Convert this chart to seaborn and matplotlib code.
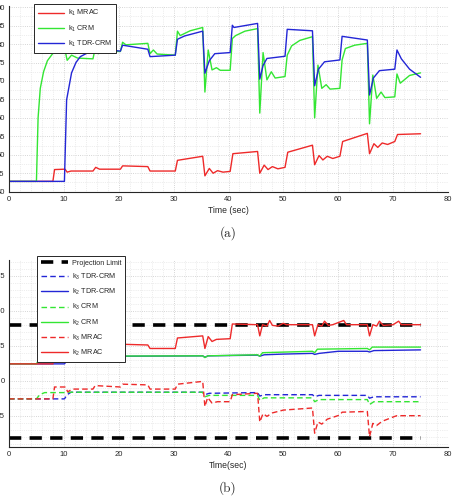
import numpy as np
import pandas as pd
import seaborn as sns
import matplotlib.pyplot as plt
from matplotlib.ticker import MultipleLocator, AutoMinorLocator

# ---- panel (a): k1 gains ----
t_k1_mrac = [0, 8.0, 8.3, 10.2, 10.6, 11.3, 15.3, 15.8, 16.5, 20.3, 20.7, 25.3, 25.7, 30.3, 30.7, 35.3,
             35.7, 36.5, 37.2, 38.0, 39.0, 40.3, 40.8, 45.3, 45.7, 46.5, 47.2, 48.0, 49.0, 50.3, 50.8,
             55.3, 55.7, 56.5, 57.2, 58.0, 59.0, 60.3, 60.8, 65.3, 65.7, 66.5, 67.2, 68.0, 69.0, 70.3,
             70.8, 75.0]
k1_mrac = [42.8, 42.8, 46.0, 46.1, 45.3, 45.6, 45.6, 46.6, 46.1, 46.1, 47.0, 46.8, 45.6, 45.6, 48.5, 49.6,
           44.3, 46.3, 45.0, 45.7, 45.3, 45.5, 50.3, 50.9, 45.0, 47.2, 46.0, 46.8, 46.2, 46.6, 50.7,
           52.6, 47.3, 49.8, 48.6, 49.6, 49.0, 49.6, 53.6, 55.8, 50.3, 53.0, 52.0, 53.2, 52.8, 53.6,
           55.5, 55.7]

t_k1_crm = [0, 5.0, 5.3, 5.7, 6.3, 7.0, 8.0, 9.0, 10.2, 10.6, 11.4, 12.5, 15.3, 15.7, 16.3, 17.0, 20.3,
            20.7, 21.3, 25.3, 25.7, 26.3, 27.0, 30.3, 30.7, 31.2, 33.0, 35.3, 35.7, 36.3, 37.0, 37.8,
            38.5, 40.3, 40.7, 41.3, 43.0, 45.3, 45.7, 46.3, 47.0, 47.8, 48.5, 50.3, 50.7, 51.5, 53.0,
            55.3, 55.7, 56.3, 57.0, 57.8, 58.5, 60.3, 60.7, 61.3, 63.0, 65.3, 65.7, 66.3, 67.0, 67.8,
            68.5, 70.3, 70.7, 71.3, 73.0, 75.0]
k1_crm = [42.8, 42.8, 60.0, 68.0, 72.5, 75.5, 77.5, 78.2, 78.4, 75.6, 77.0, 76.2, 76.0, 78.8, 77.4, 78.0, 78.0,
          80.5, 79.8, 80.2, 77.4, 78.4, 77.3, 77.0, 83.5, 82.3, 83.6, 84.5, 67.0, 78.4, 73.0, 73.6,
          72.9, 72.9, 81.5, 82.3, 83.5, 84.2, 61.3, 77.7, 70.3, 72.5, 70.8, 71.2, 77.0, 79.5, 81.0,
          82.0, 60.0, 74.3, 68.0, 69.0, 67.8, 68.0, 75.7, 78.8, 79.7, 80.2, 58.4, 71.6, 65.3, 67.0,
          65.5, 65.7, 71.9, 69.4, 71.5, 72.2]

t_k1_tdr = [0, 10.1, 10.5, 11.4, 12.2, 13.0, 14.8, 16.0, 18.4, 20.3, 20.7, 25.3, 25.7, 30.3, 30.7, 32.0,
            35.3, 35.7, 36.5, 37.5, 40.3, 40.7, 41.0, 45.3, 45.7, 46.3, 47.0, 50.3, 50.7, 55.3, 55.7,
            56.4, 57.5, 60.3, 60.7, 65.3, 65.7, 66.4, 67.5, 70.3, 70.7, 71.5, 73.0, 75.0]
k1_tdr = [42.8, 42.8, 64.9, 72.2, 75.0, 76.6, 78.0, 78.6, 78.4, 78.1, 79.7, 78.6, 76.6, 77.0, 81.3, 82.2,
          83.5, 72.1, 75.5, 77.4, 77.7, 85.1, 84.5, 85.6, 70.5, 74.2, 76.1, 76.7, 84.0, 83.6, 68.7,
          73.2, 75.2, 75.7, 82.1, 81.1, 66.2, 70.8, 72.8, 73.2, 78.4, 76.0, 73.2, 71.0]

# ---- panel (b): k2 / k3 gains ----
proj_t = [0, 75]
proj_hi = [0.8, 0.8]
proj_lo = [-0.82, -0.82]

t_k2_mrac = [0, 8.0, 8.3, 10.3, 10.7, 11.5, 15.3, 15.7, 20.3, 20.7, 25.3, 25.7, 30.3, 30.7, 35.3, 35.7,
             36.3, 37.0, 37.8, 40.3, 40.7, 45.3, 45.7, 46.2, 47.0, 47.5, 48.0, 49.0, 50.0, 50.5, 55.3,
             55.7, 56.3, 57.0, 57.5, 58.2, 59.0, 61.0, 61.5, 65.3, 65.7, 66.3, 67.0, 67.5, 68.2, 70.0,
             71.0, 71.5, 75.0]
k2_mrac = [0.24, 0.24, 0.45, 0.45, 0.40, 0.44, 0.44, 0.50, 0.49, 0.52, 0.51, 0.46, 0.46, 0.61, 0.64, 0.46,
           0.63, 0.56, 0.59, 0.60, 0.81, 0.80, 0.64, 0.80, 0.78, 0.86, 0.79, 0.78, 0.82, 0.80, 0.80,
           0.64, 0.80, 0.78, 0.85, 0.79, 0.80, 0.86, 0.80, 0.80, 0.64, 0.80, 0.78, 0.85, 0.79, 0.80,
           0.85, 0.80, 0.80]

t_k3_mrac = [0, 8.0, 8.3, 10.3, 10.7, 11.5, 15.3, 15.7, 20.3, 20.7, 25.3, 25.7, 30.3, 30.7, 35.3, 35.7,
             36.2, 37.0, 38.0, 40.3, 40.7, 45.3, 45.7, 46.3, 47.0, 48.0, 50.0, 55.3, 55.7, 56.3, 57.0,
             58.0, 60.3, 60.7, 65.3, 65.7, 66.3, 67.0, 68.0, 70.3, 70.7, 75.0]
k3_mrac = [-0.26, -0.26, -0.09, -0.09, -0.16, -0.12, -0.12, -0.07, -0.09, -0.05, -0.06, -0.12, -0.12, -0.05,
           -0.01, -0.37, -0.24, -0.32, -0.30, -0.30, -0.20, -0.18, -0.59, -0.47, -0.51, -0.46, -0.42,
           -0.39, -0.75, -0.59, -0.62, -0.55, -0.49, -0.45, -0.44, -0.80, -0.61, -0.64, -0.58, -0.51,
           -0.50, -0.50]

t_k2_crm = [0, 5.0, 5.5, 6.2, 10.3, 10.7, 35.3, 35.7, 36.2, 45.3, 45.7, 46.2, 55.3, 55.7, 56.2, 65.3, 65.7,
            66.2, 75.0]
k2_crm = [0.24, 0.24, 0.31, 0.34, 0.345, 0.35, 0.355, 0.33, 0.355, 0.37, 0.35, 0.40, 0.42, 0.40, 0.45,
          0.46, 0.44, 0.48, 0.48]

t_k3_crm = [0, 5.0, 5.6, 6.5, 10.3, 10.7, 35.3, 35.7, 36.5, 45.3, 45.7, 46.5, 55.3, 55.7, 56.5, 65.3,
            65.7, 66.5, 75.0]
k3_crm = [-0.26, -0.26, -0.20, -0.17, -0.17, -0.165, -0.165, -0.23, -0.21, -0.21, -0.28, -0.245, -0.245,
          -0.30, -0.27, -0.27, -0.34, -0.30, -0.30]

t_k2_tdr = [0, 10.1, 10.6, 11.5, 35.3, 35.7, 36.3, 45.3, 45.7, 46.5, 50.0, 55.3, 55.7, 56.5, 60.0, 65.3,
            65.7, 66.5, 75.0]
k2_tdr = [0.24, 0.24, 0.29, 0.345, 0.355, 0.335, 0.355, 0.365, 0.35, 0.37, 0.38, 0.39, 0.375, 0.39, 0.42,
          0.42, 0.41, 0.43, 0.44]

t_k3_tdr = [0, 10.1, 10.6, 11.3, 35.3, 35.7, 36.5, 45.3, 45.7, 46.5, 55.3, 55.7, 56.5, 65.3, 65.7, 66.5,
            75.0]
k3_tdr = [-0.26, -0.26, -0.20, -0.165, -0.165, -0.20, -0.18, -0.17, -0.22, -0.20, -0.20, -0.23, -0.21,
          -0.21, -0.25, -0.23, -0.23]

x_ticks = list(range(0, 81, 10))
top_yticks = list(range(40, 91, 5))
bot_yticks = [-0.5, 0, 0.5, 1.0, 1.5]
bot_ytick_labels = ['-0.5', '0', '0.5', '1.0', '1.5']

RED = '#ee2a2a'
GREEN = '#33e633'
BLUE = '#2326d6'
DASH = (0, (4.0, 2.3))

sns.set_style('white')
plt.rcParams['font.family'] = ['Liberation Sans', 'DejaVu Sans']
plt.rcParams['mathtext.default'] = 'regular'
plt.rcParams['axes.linewidth'] = 0.8


def style_axes(ax, yticks, ylim):
    ax.set_xlim(0, 80)
    ax.set_ylim(*ylim)
    ax.set_xticks(x_ticks)
    ax.set_yticks(yticks)
    ax.xaxis.set_minor_locator(AutoMinorLocator(5))
    ax.tick_params(which='both', direction='in', labelsize=5.5, colors='#262626', width=0.6)
    ax.tick_params(which='major', length=3, pad=3)
    ax.tick_params(which='minor', length=0)
    ax.grid(True, which='major', color='#c8c8c8', ls=':', lw=0.6)
    ax.grid(True, which='minor', color='#dedede', ls=':', lw=0.5)
    ax.set_axisbelow(True)
    for s in ['top', 'right']:
        ax.spines[s].set_visible(False)
    for s in ['left', 'bottom']:
        ax.spines[s].set_color('#262626')


def line(ax, t, y, color, label, ls='-', lw=1.0):
    sns.lineplot(x=t, y=y, ax=ax, color=color, label=label, estimator=None, sort=False,
                 linestyle=ls, linewidth=lw)


fig = plt.figure(figsize=(4.55, 4.97), dpi=100)
W, H = 455.0, 497.0

# (a)
ax1 = fig.add_axes([9 / W, 1 - 191.7 / H, 439 / W, (191.7 - 5.7) / H])
style_axes(ax1, top_yticks, (40, 90.4))
ax1.yaxis.set_minor_locator(AutoMinorLocator(2))
line(ax1, t_k1_mrac, k1_mrac, RED, r'k$_1$ MRAC')
line(ax1, t_k1_crm, k1_crm, GREEN, r'k$_1$ CRM')
line(ax1, t_k1_tdr, k1_tdr, BLUE, r'k$_1$ TDR-CRM')
ax1.set_xlabel('Time (sec)', fontsize=6.2, labelpad=2)
ax1.set_ylabel('')
leg1 = ax1.legend(loc='upper left', bbox_to_anchor=(34 / W, 1 - 4.3 / H), bbox_transform=fig.transFigure,
                  fontsize=5.2, frameon=True, fancybox=False, edgecolor='#262626', framealpha=1,
                  handlelength=3.6, handletextpad=0.5, labelspacing=0.7, borderpad=0.55,
                  borderaxespad=0)
leg1.get_frame().set_linewidth(0.7)

# (b)
ax2 = fig.add_axes([9 / W, 1 - 446.7 / H, 439 / W, (446.7 - 260) / H])
style_axes(ax2, bot_yticks, (-0.943, 1.724))
ax2.set_yticklabels(bot_ytick_labels)
ax2.yaxis.set_minor_locator(AutoMinorLocator(5))
line(ax2, proj_t, proj_hi, 'black', 'Projection Limit', ls=(0, (3.4, 2.3)), lw=2.6)
line(ax2, proj_t, proj_lo, 'black', '_nolegend_', ls=(0, (3.4, 2.3)), lw=2.6)
line(ax2, t_k3_tdr, k3_tdr, BLUE, r'k$_3$ TDR-CRM', ls=DASH)
line(ax2, t_k2_tdr, k2_tdr, BLUE, r'k$_2$ TDR-CRM')
line(ax2, t_k3_crm, k3_crm, GREEN, r'k$_3$ CRM', ls=DASH)
line(ax2, t_k2_crm, k2_crm, GREEN, r'k$_2$ CRM')
line(ax2, t_k3_mrac, k3_mrac, RED, r'k$_3$ MRAC', ls=DASH)
line(ax2, t_k2_mrac, k2_mrac, RED, r'k$_2$ MRAC')
ax2.set_xlabel('Time(sec)', fontsize=6.2, labelpad=2)
ax2.set_ylabel('')
handles, labels = ax2.get_legend_handles_labels()
leg2 = ax2.legend(handles, labels, loc='upper left', bbox_to_anchor=(36.7 / W, 1 - 255.5 / H),
                  bbox_transform=fig.transFigure, fontsize=5.2, frameon=True, fancybox=False,
                  edgecolor='#262626', framealpha=1, handlelength=3.8, handletextpad=0.5,
                  labelspacing=0.7, borderpad=0.55, borderaxespad=0)
leg2.get_frame().set_linewidth(0.7)

cap = ['cmr10', 'Liberation Serif', 'DejaVu Serif']
fig.text(228 / W, 1 - 233 / H, '(a)', ha='center', va='center', fontsize=9.5, family=cap)
fig.text(228 / W, 1 - 488 / H, '(b)', ha='center', va='center', fontsize=9.5, family=cap)

fig.savefig('out.png', dpi=100)
